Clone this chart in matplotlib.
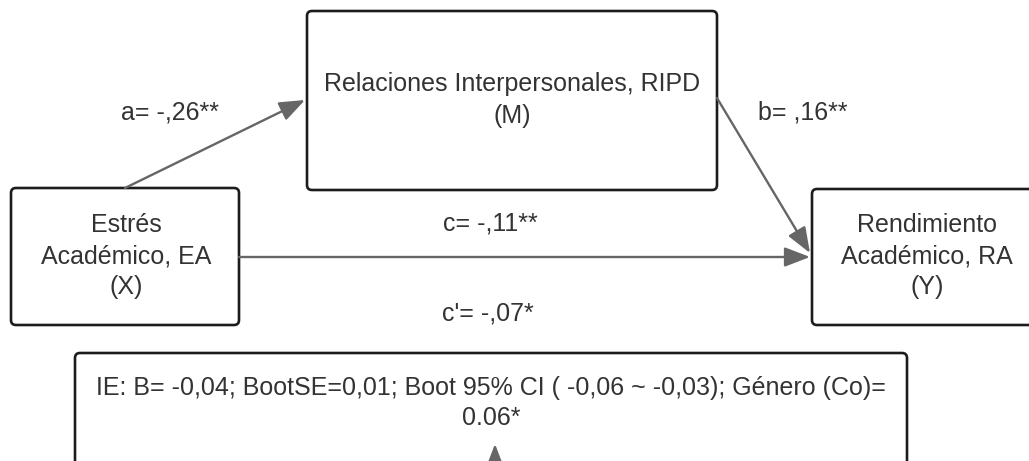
import matplotlib.pyplot as plt
from matplotlib.patches import FancyBboxPatch, FancyArrowPatch

# node labels
x_label = "Estrés\nAcadémico, EA\n(X)"
m_label = "Relaciones Interpersonales, RIPD\n(M)"
y_label = "Rendimiento\nAcadémico, RA\n(Y)"
ie_label = "IE: B= -0,04; BootSE=0,01; Boot 95% CI ( -0,06 ~ -0,03); Género (Co)=\n0.06*"

# path coefficients
path_names = ["a", "b", "c", "c'"]
path_values = ["-,26**", ",16**", "-,11**", "-,07*"]

plt.rcParams['font.family'] = ['Liberation Sans', 'DejaVu Sans']

fig = plt.figure(figsize=(10.29, 4.61), dpi=100)
ax = fig.add_axes([0, 0, 1, 1])
ax.set_xlim(0, 1029)
ax.set_ylim(461, 0)
ax.axis('off')

txt = '#333333'
edge = '#1c1c1c'
arrow_c = '#666666'


def box(x0, y0, x1, y1):
    p = FancyBboxPatch((x0, y0), x1 - x0, y1 - y0,
                       boxstyle="round,pad=0,rounding_size=5",
                       fc='white', ec=edge, lw=1.9, zorder=2)
    ax.add_patch(p)


def arrow(p0, p1):
    a = FancyArrowPatch(p0, p1, arrowstyle='-|>,head_length=1.3,head_width=0.5',
                        mutation_scale=12, color=arrow_c, lw=1.7,
                        shrinkA=0, shrinkB=0, zorder=3)
    ax.add_patch(a)


# boxes
box(11, 188, 239, 325)
box(307, 11, 717, 190)
box(812, 189, 1040, 325)
box(75, 353, 907, 490)

# arrows
arrow((125, 188), (305, 100))
arrow((717, 98), (810, 253))
arrow((239, 257), (810, 257))
arrow((495, 475), (495, 444))

fs = 18
ax.text(126, 256, x_label, ha='center', va='center', fontsize=fs, color=txt,
        linespacing=1.38, zorder=4)
ax.text(512, 100, m_label, ha='center', va='center', fontsize=fs, color=txt,
        linespacing=1.42, zorder=4)
ax.text(927, 256, y_label, ha='center', va='center', fontsize=fs, color=txt,
        linespacing=1.38, zorder=4)
ax.text(491, 403, ie_label, ha='center', va='center', fontsize=fs, color=txt,
        linespacing=1.3, zorder=4)

coef_pos = [(170, 112), (803, 112), (490, 223), (488, 313)]
for name, val, (px, py) in zip(path_names, path_values, coef_pos):
    ax.text(px, py, f"{name}= {val}", ha='center', va='center', fontsize=fs,
            color=txt, zorder=4)

fig.savefig('out.png', dpi=100)
